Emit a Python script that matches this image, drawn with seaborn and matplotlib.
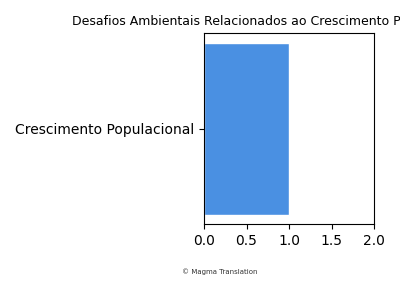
import matplotlib
matplotlib.use("Agg")
import matplotlib.pyplot as plt
import seaborn as sns
import pandas as pd

categories = ["Crescimento Populacional"]
values = [1.0]
x_ticks = [0.0, 0.5, 1.0, 1.5, 2.0]

sns.set_style("ticks")
plt.rcParams['font.family'] = ['DejaVu Sans']
plt.rcParams['text.color'] = 'black'
plt.rcParams['xtick.color'] = 'black'
plt.rcParams['ytick.color'] = 'black'
plt.rcParams['xtick.labelcolor'] = 'black'
plt.rcParams['ytick.labelcolor'] = 'black'

df = pd.DataFrame({"categoria": categories, "valor": values})

fig = plt.figure(figsize=(4, 3), dpi=100)
ax = fig.add_axes([0.51, 0.253, 0.425, 0.637])
sns.barplot(data=df, x="valor", y="categoria", orient="h", color="#4A90E2",
            saturation=1, width=0.9, ax=ax)
ax.set_xlim(0, 2)
ax.set_xticks(x_ticks)
ax.set_xlabel("")
ax.set_ylabel("")
fig.text(0.18, 0.917, "Desafios Ambientais Relacionados ao Crescimento Populacional",
         fontsize=9, ha="left", va="baseline", color="black")
for s in ax.spines.values():
    s.set_visible(True)
    s.set_color("black")
fig.text(0.55, 0.087, "© Magma Translation", fontsize=5, ha="center", color="#333333")
fig.savefig("out.png", dpi=100)
